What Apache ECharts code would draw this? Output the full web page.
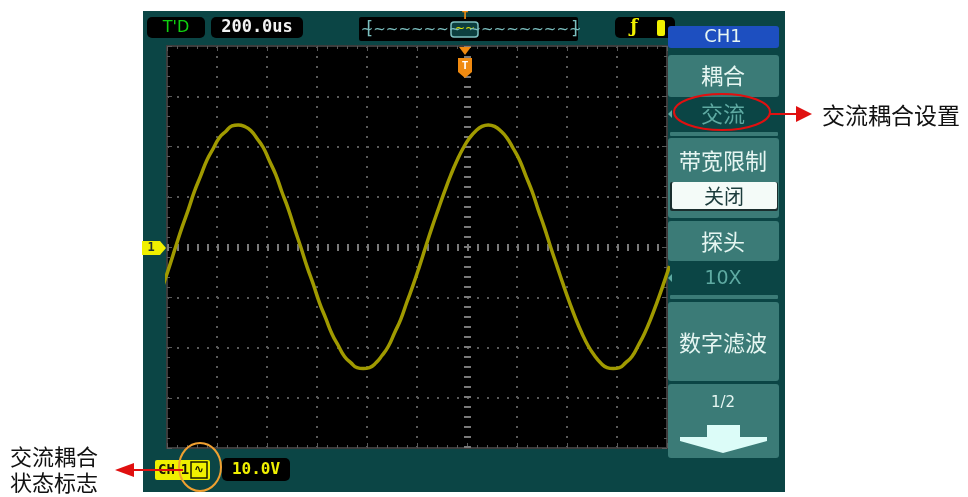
<!DOCTYPE html>
<html>
<head>
<meta charset="utf-8">
<script src="https://cdn.jsdelivr.net/npm/echarts@6/dist/echarts.min.js"></script>
<style>
html,body{margin:0;padding:0;background:#fff;}
#chart{width:968px;height:497px;}
</style>
</head>
<body>
<div id="chart"></div>
<script>
// Time (µs, trigger at 0) of each sample
const times = [-1215,-1190,-1165,-1140,-1115,-1090,-1065,-1040,-1015,-990,-965,-940,-915,-890,-865,-840,-815,-790,-765,-740,-715,-690,-665,-640,-615,-590,-565,-540,-515,-490,-465,-440,-415,-390,-365,-340,-315,-290,-265,-240,-215,-190,-165,-140,-115,-90,-65,-40,-15,10,35,60,85,110,135,160,185,210,235,260,285,310,335,360,385,410,435,460,485,510,535,560,585,610,635,660,685,710,735,760,785,810];
// Channel 1 voltage (V) (10 V/div)
const volts = [-7.5,-3.8,0.1,3.9,7.4,11.1,14.2,17.3,19.6,21.8,23.0,24.1,24.3,24.0,23.2,21.6,19.8,17.1,14.4,10.9,7.6,3.7,0,-3.9,-7.4,-11.1,-14.2,-17.3,-19.6,-21.8,-23.0,-24.0,-24.2,-24.0,-23.1,-21.6,-19.8,-17.1,-14.4,-10.9,-7.5,-3.8,0.1,3.9,7.5,11.0,14.3,17.2,19.7,21.7,23.1,24.0,24.3,24.0,23.1,21.7,19.6,17.3,14.2,11.1,7.4,3.8,-0.1,-3.8,-7.5,-11.0,-14.3,-17.2,-19.7,-21.6,-23.1,-24.0,-24.2,-24.0,-23.0,-21.8,-19.6,-17.2,-14.3,-11.0,-7.5,-3.8];
// Screen texts
const timebase = '200.0us';
const voltsDiv = '10.0V';
const menuTitle = 'CH1';
const menuItems = ['耦合', '交流', '带宽限制', '关闭', '探头', '10X', '数字滤波', '1/2'];
const noteRight = '交流耦合设置';
const noteLeft = ['交流耦合', '状态标志'];

const tMin = -1200, tMax = 800, tStep = 200;
const vMin = -40, vMax = 40, vStep = 10;

const chart = echarts.init(document.getElementById('chart'), null, {renderer: 'canvas'});

const gridCol = '#5a5a5a';
function xAx(pos, split) {
  return {
    type: 'value', min: tMin, max: tMax, interval: tStep, position: pos,
    axisLine: {show: true, onZero: false, lineStyle: {color: '#3c3c3c', width: 2}},
    axisTick: {show: true, inside: true, length: 5, lineStyle: {color: gridCol, width: 1}},
    minorTick: {show: true, splitNumber: 5, length: 3, lineStyle: {color: gridCol, width: 1}},
    axisLabel: {show: false},
    splitLine: {show: split, lineStyle: {color: gridCol, width: 2, type: [2, 8]}},
    minorSplitLine: {show: false}
  };
}
function yAx(pos, split) {
  return {
    type: 'value', min: vMin, max: vMax, interval: vStep, position: pos,
    axisLine: {show: true, onZero: false, lineStyle: {color: '#3c3c3c', width: 2}},
    axisTick: {show: true, inside: true, length: 5, lineStyle: {color: gridCol, width: 1}},
    minorTick: {show: true, splitNumber: 5, length: 3, lineStyle: {color: gridCol, width: 1}},
    axisLabel: {show: false},
    splitLine: {show: split, lineStyle: {color: gridCol, width: 2, type: [2, 8]}},
    minorSplitLine: {show: false}
  };
}

const teal = '#3b7b77';
const panel = '#0b4545';
const btnText = '#e6f6f2';
const selText = '#5eaaa2';
const cjk = '"Noto Sans CJK SC", sans-serif';
const mono = '"DejaVu Sans Mono", monospace';

function rect(x, y, w, h, fill, r, extra) {
  return Object.assign({type: 'rect', shape: {x: x, y: y, width: w, height: h, r: r || 0}, style: {fill: fill}, silent: true, z: 100}, extra || {});
}
function txt(x, y, s, fill, size, fam, align, weight) {
  return {type: 'text', x: x, y: y, silent: true, z: 110,
    style: {text: s, fill: fill, fontSize: size, fontFamily: fam, fontWeight: weight || 'normal', textAlign: align || 'center', textVerticalAlign: 'middle'}};
}
function poly(points, fill, z) {
  return {type: 'polygon', shape: {points: points}, style: {fill: fill}, silent: true, z: z || 105};
}

const graphics = [
  // scope panel background
  Object.assign(rect(143, 11, 642, 481, panel, 0), {z: -100}),
  // top bar
  rect(147, 17, 58, 21, '#000', 5),
  txt(176, 28, "T'D", '#10d010', 16, '"DejaVu Sans", sans-serif'),
  rect(211, 17, 92, 21, '#000', 5),
  txt(257, 28, timebase, '#f2f2f2', 17, mono, 'center', 'bold'),
  rect(359, 17, 219, 24, '#000', 2),
  txt(369, 30, '[', '#7cc0c0', 17, mono),
  txt(411, 30, '~~~~~~~~', '#7cc0c0', 15, '"DejaVu Sans", sans-serif'),
  {type: 'rect', shape: {x: 451, y: 22, width: 27, height: 15, r: 3}, style: {fill: '#0d3f3f', stroke: '#7cc0c0', lineWidth: 1.5}, silent: true, z: 102},
  txt(465, 29, '~~', '#e0e000', 12, '"DejaVu Sans", sans-serif'),
  txt(525, 30, '~~~~~~~~~', '#7cc0c0', 15, '"DejaVu Sans", sans-serif'),
  txt(575, 30, ']', '#7cc0c0', 17, mono),
  txt(465, 16, 'T', '#f08a10', 11, mono, 'center', 'bold'),
  rect(615, 17, 60, 21, '#000', 5),
  txt(634, 27, 'ƒ', '#f0f000', 18, '"DejaVu Serif", serif', 'center', 'bold'),
  rect(657, 20, 8, 16, '#f0f000', 2),
  // trigger position marker
  poly([[459, 47], [471, 47], [465, 55]], '#f08a10'),
  poly([[458, 58], [472, 58], [472, 72], [465, 78], [458, 72]], '#f08a10'),
  txt(465, 66, 'T', '#fff', 11, mono, 'center', 'bold'),
  // channel 1 level marker
  poly([[142, 241], [160, 241], [166, 248], [160, 255], [142, 255]], '#f0f000'),
  txt(151, 248, '1', '#203030', 12, mono, 'center', 'bold'),
  // right-hand menu
  rect(668, 26, 111, 22, '#1d4fc0', 3),
  txt(723, 37, menuTitle, btnText, 18, '"DejaVu Sans", sans-serif'),
  rect(668, 55, 111, 42, teal, 3),
  txt(723, 76, menuItems[0], btnText, 22, cjk),
  poly([[668, 114], [672, 110], [672, 118]], selText),
  txt(723, 114, menuItems[1], selText, 22, cjk),
  rect(670, 132, 108, 4, teal, 1),
  rect(668, 138, 111, 80, teal, 3),
  txt(723, 161, menuItems[2], btnText, 22, cjk),
  rect(670, 182, 108, 29, '#1a2e2e', 2),
  rect(672, 182, 105, 27, '#f4fbf8', 2),
  txt(724, 196, menuItems[3], '#1c3c3c', 20, cjk),
  rect(668, 221, 111, 40, teal, 3),
  txt(723, 242, menuItems[4], btnText, 22, cjk),
  poly([[668, 278], [672, 274], [672, 282]], selText),
  txt(723, 279, menuItems[5], selText, 19, '"DejaVu Sans", sans-serif'),
  rect(670, 295, 108, 4, teal, 1),
  rect(668, 302, 111, 79, teal, 3),
  txt(723, 343, menuItems[6], btnText, 22, cjk),
  rect(668, 384, 111, 74, teal, 3),
  txt(723, 403, menuItems[7], btnText, 15, '"DejaVu Sans", sans-serif'),
  poly([[707, 425], [740, 425], [740, 437], [767, 437], [767, 441], [723, 453], [680, 441], [680, 437], [707, 437]], '#dcfcf8'),
  // bottom status bar
  rect(155, 460, 55, 20, '#f0f000', 2),
  txt(158, 470, 'CH', '#1a1a00', 14, mono, 'left', 'bold'),
  txt(185, 470, '1', '#1a1a00', 14, mono, 'center', 'bold'),
  {type: 'rect', shape: {x: 191, y: 462, width: 16, height: 16}, style: {fill: '#f0f000', stroke: '#1a1a00', lineWidth: 1.5}, silent: true, z: 102},
  txt(199, 470, '∿', '#1a1a00', 12, '"DejaVu Sans", sans-serif', 'center', 'bold'),
  rect(222, 458, 68, 23, '#000', 5),
  txt(256, 470, voltsDiv, '#f0f000', 16, mono, 'center', 'bold'),
  // annotations
  {type: 'ellipse', shape: {cx: 200, cy: 467, rx: 21, ry: 24}, style: {fill: null, stroke: '#f0a030', lineWidth: 2}, silent: true, z: 120},
  {type: 'ellipse', shape: {cx: 722, cy: 112, rx: 48, ry: 18}, style: {fill: null, stroke: '#e01010', lineWidth: 2}, silent: true, z: 120},
  {type: 'line', shape: {x1: 770, y1: 114, x2: 798, y2: 114}, style: {stroke: '#e01010', lineWidth: 2}, silent: true, z: 120},
  poly([[796, 106], [812, 114], [796, 122]], '#e01010', 120),
  txt(822, 115, noteRight, '#111', 23, cjk, 'left'),
  {type: 'line', shape: {x1: 183, y1: 470, x2: 132, y2: 470}, style: {stroke: '#e01010', lineWidth: 2}, silent: true, z: 120},
  poly([[134, 463], [115, 470], [134, 477]], '#e01010', 120),
  txt(10, 457, noteLeft[0], '#111', 22, cjk, 'left'),
  txt(10, 483, noteLeft[1], '#111', 22, cjk, 'left')
];

chart.setOption({
  animation: false,
  backgroundColor: '#ffffff',
  grid: {left: 167, top: 46, width: 500, height: 402, show: true, backgroundColor: '#000', borderColor: '#3c3c3c', borderWidth: 2, containLabel: false},
  xAxis: [xAx('bottom', true), xAx('top', false)],
  yAxis: [yAx('left', true), yAx('right', false)],
  series: [{
    type: 'line',
    data: times.map((t, i) => [t, volts[i]]),
    smooth: true,
    showSymbol: false,
    clip: true,
    lineStyle: {color: '#a09a00', width: 3.5},
    markLine: {
      silent: true,
      symbol: 'none',
      label: {show: false},
      lineStyle: {color: '#7a7a7a', width: 7, type: [2, 8]},
      data: [{yAxis: 0}, {xAxis: 0}]
    },
    z: 5
  }],
  graphic: graphics
});
</script>
</body>
</html>
